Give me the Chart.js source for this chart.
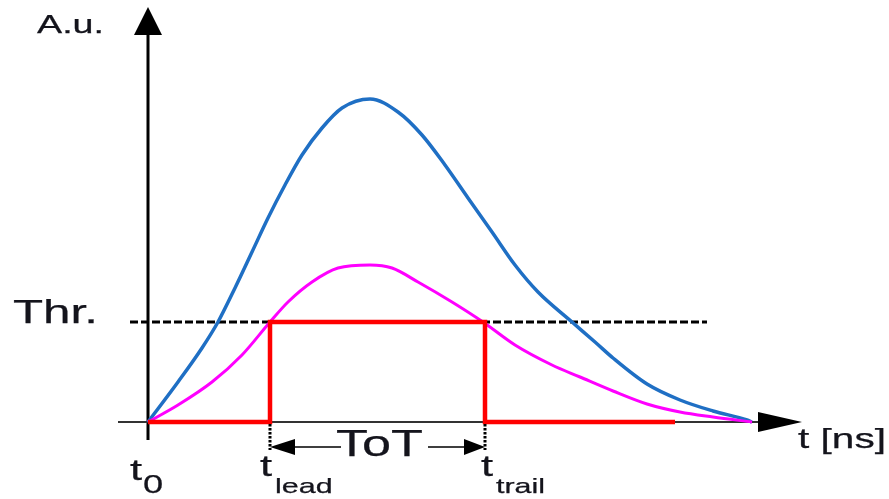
<!DOCTYPE html>
<html>
<head>
<meta charset="utf-8">
<script src="https://cdn.jsdelivr.net/npm/chart.js@4/dist/chart.umd.min.js"></script>
<style>
  html, body { margin: 0; padding: 0; background: #fff; }
  #wrap { width: 889px; height: 499px; }
</style>
</head>
<body>
<div id="wrap"><canvas id="totChart"></canvas></div>
<script>
// time axis in arbitrary units (t0 = 0), amplitude in A.u. (threshold = 1)
const BLUE_T = [0, 1.5, 2.7, 3.5, 4.35, 5.2, 6.0, 6.85, 7.7, 8.7, 9.7, 11.1, 12.5, 13.7, 14.85, 16.0, 17.2, 18.35, 19.5, 21.2, 22.35, 23.25, 24.95, 26.6, 28.25, 29.95, 30.2];
const BLUE_A = [0, 0.40, 0.74, 1.0, 1.34, 1.70, 2.04, 2.37, 2.67, 2.94, 3.14, 3.23, 3.10, 2.87, 2.57, 2.24, 1.90, 1.57, 1.30, 1.0, 0.80, 0.64, 0.38, 0.22, 0.11, 0.02, 0];

const PINK_T = [0, 1.5, 3.2, 4.7, 6.1, 7.0, 8.2, 9.5, 11.1, 12.2, 13.5, 15.2, 16.75, 18.35, 20.2, 21.6, 23.25, 24.95, 26.6, 28.25, 30.2];
const PINK_A = [0, 0.17, 0.40, 0.67, 1.0, 1.20, 1.40, 1.54, 1.57, 1.54, 1.40, 1.20, 1.0, 0.77, 0.57, 0.45, 0.31, 0.18, 0.10, 0.05, 0];

const THRESHOLD = 1.0;
const THR_RANGE = [-0.9, 27.95];
const T_LEAD = 6.1;
const T_TRAIL = 16.85;
const RED_END = 26.35;

const X_AXIS_RANGE = [-1.5, 32.7];
const Y_AXIS_RANGE = [-0.18, 4.15];
const TOT_ARROW_Y = -0.25;

const X_MIN = -7.4, X_MAX = 37.05;
const Y_MIN = -0.77, Y_MAX = 4.22;

const toPoints = (xs, ys) => xs.map((x, i) => ({ x, y: ys[i] }));

const redPulse = [
  { x: 0, y: 0 }, { x: T_LEAD, y: 0 }, { x: T_LEAD, y: THRESHOLD },
  { x: T_TRAIL, y: THRESHOLD }, { x: T_TRAIL, y: 0 }, { x: RED_END, y: 0 },
];

const SX = 1.45;
const FONT = '"Liberation Sans", Arial, sans-serif';
const INK = "#14141c";

function drawText(ctx, str, x, y, size, align) {
  ctx.save();
  ctx.translate(x, y);
  ctx.scale(SX, 1);
  ctx.font = `${size}px ${FONT}`;
  ctx.fillStyle = INK;
  ctx.strokeStyle = INK;
  ctx.lineWidth = 0.25;
  ctx.textAlign = align || "left";
  ctx.textBaseline = "alphabetic";
  ctx.fillText(str, 0, 0);
  ctx.strokeText(str, 0, 0);
  ctx.restore();
}

function triangle(ctx, pts) {
  ctx.beginPath();
  ctx.moveTo(pts[0][0], pts[0][1]);
  ctx.lineTo(pts[1][0], pts[1][1]);
  ctx.lineTo(pts[2][0], pts[2][1]);
  ctx.closePath();
  ctx.fill();
}

const decorations = {
  id: "decorations",
  afterDatasetsDraw(chart) {
    const { ctx } = chart;
    const xs = chart.scales.x, ys = chart.scales.y;
    const px = (v) => xs.getPixelForValue(v);
    const py = (v) => ys.getPixelForValue(v);

    ctx.save();
    ctx.fillStyle = "#000";
    // arrow heads of the axes
    const yTip = py(Y_AXIS_RANGE[1]), x0 = px(0);
    triangle(ctx, [[x0, yTip], [x0 - 14, yTip + 28], [x0 + 14, yTip + 28]]);
    const xTip = px(X_AXIS_RANGE[1]), y0 = py(0);
    triangle(ctx, [[xTip, y0], [xTip - 44, y0 - 10], [xTip - 44, y0 + 10]]);

    // dotted markers below t_lead / t_trail
    const yArrow = py(TOT_ARROW_Y);
    ctx.strokeStyle = "#000";
    ctx.lineWidth = 3;
    ctx.setLineDash([2.5, 1.5]);
    [T_LEAD, T_TRAIL].forEach((t) => {
      ctx.beginPath();
      ctx.moveTo(px(t), y0 + 2);
      ctx.lineTo(px(t), yArrow + 3);
      ctx.stroke();
    });
    ctx.setLineDash([]);

    // ToT double arrow
    const xl = px(T_LEAD), xr = px(T_TRAIL);
    ctx.lineWidth = 1.5;
    ctx.beginPath();
    ctx.moveTo(xl + 20, yArrow); ctx.lineTo(xl + 71, yArrow);
    ctx.moveTo(xr - 57, yArrow); ctx.lineTo(xr - 20, yArrow);
    ctx.stroke();
    triangle(ctx, [[xl, yArrow], [xl + 25, yArrow - 8], [xl + 25, yArrow + 8]]);
    triangle(ctx, [[xr, yArrow], [xr - 21, yArrow - 8], [xr - 21, yArrow + 8]]);
    ctx.restore();

    // labels
    drawText(ctx, "A.u.", 37, 33, 26);
    drawText(ctx, "Thr.", 13, py(THRESHOLD) + 1, 34);
    drawText(ctx, "ToT", (xl + xr) / 2 + 2, yArrow + 9, 36, "center");
    drawText(ctx, "t [ns]", xTip - 4, y0 + 26, 28);
    drawText(ctx, "t", x0 - 18, y0 + 58, 30);
    drawText(ctx, "0", x0 - 5, y0 + 71, 25);
    drawText(ctx, "t", xl - 10, y0 + 54, 30);
    drawText(ctx, "lead", xl + 5, y0 + 71, 21);
    drawText(ctx, "t", xr - 4, y0 + 54, 30);
    drawText(ctx, "trail", xr + 11, y0 + 71, 21);
  },
};

const lineDefaults = { pointRadius: 0, pointHoverRadius: 0, fill: false, tension: 0 };

new Chart(document.getElementById("totChart"), {
  type: "line",
  data: {
    datasets: [
      { ...lineDefaults, label: "ToT", data: redPulse, borderColor: "#ff0000", borderWidth: 4.5 },
      { ...lineDefaults, label: "Small pulse", data: toPoints(PINK_T, PINK_A), borderColor: "#ff00ff", borderWidth: 3, cubicInterpolationMode: "monotone" },
      { ...lineDefaults, label: "Large pulse", data: toPoints(BLUE_T, BLUE_A), borderColor: "#1f6fc4", borderWidth: 3.5, cubicInterpolationMode: "monotone" },
      {
        ...lineDefaults, label: "Thr.", borderColor: "#000", borderWidth: 3, borderDash: [8, 3],
        data: [{ x: THR_RANGE[0], y: THRESHOLD }, { x: THR_RANGE[1], y: THRESHOLD }],
      },
      {
        ...lineDefaults, label: "t axis", borderColor: "#333", borderWidth: 1.8,
        data: [{ x: X_AXIS_RANGE[0], y: 0 }, { x: X_AXIS_RANGE[1] - 2, y: 0 }],
      },
      {
        ...lineDefaults, label: "A.u. axis", borderColor: "#000", borderWidth: 3,
        data: [{ x: 0, y: Y_AXIS_RANGE[0] }, { x: 0, y: Y_AXIS_RANGE[1] - 0.2 }],
      },
    ],
  },
  options: {
    responsive: true,
    maintainAspectRatio: false,
    animation: false,
    layout: { padding: 0 },
    plugins: { legend: { display: false }, tooltip: { enabled: false } },
    scales: {
      x: { type: "linear", min: X_MIN, max: X_MAX, display: false },
      y: { type: "linear", min: Y_MIN, max: Y_MAX, display: false },
    },
  },
  plugins: [decorations],
});
</script>
</body>
</html>
